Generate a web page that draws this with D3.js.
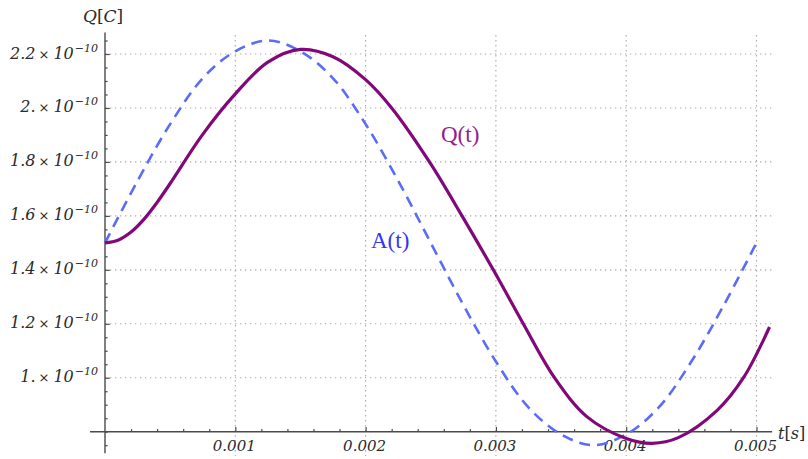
<!DOCTYPE html>
<html>
<head>
<meta charset="utf-8">
<script src="https://cdn.jsdelivr.net/npm/d3@7"></script>
<style>
  html, body { margin: 0; padding: 0; background: #fff; }
  svg { display: block; }
</style>
</head>
<body>
<svg id="chart" width="808" height="459"></svg>
<script>
// Driving signal A(t) and capacitor charge Q(t), in coulombs, against time in seconds
const timeA = [0, 0.00025, 0.0005, 0.00075, 0.001, 0.00125, 0.0015, 0.00175, 0.002, 0.00225,
  0.0025, 0.00275, 0.003, 0.00325, 0.0035, 0.00375, 0.004, 0.00425, 0.0045, 0.00475, 0.005];
const chargeA = [1.50e-10, 1.73e-10, 1.94e-10, 2.11e-10, 2.21e-10, 2.25e-10, 2.21e-10, 2.11e-10,
  1.94e-10, 1.73e-10, 1.50e-10, 1.27e-10, 1.06e-10, 0.89e-10, 0.79e-10, 0.75e-10, 0.79e-10,
  0.89e-10, 1.06e-10, 1.27e-10, 1.50e-10];

const timeQ = [0, 0.0001, 0.0002, 0.0003, 0.0004, 0.0005, 0.00075, 0.001, 0.00125, 0.0015,
  0.00175, 0.002, 0.0022, 0.00249, 0.00274, 0.00298, 0.00321, 0.00345, 0.0037, 0.004, 0.0042,
  0.0044, 0.0047, 0.0049, 0.0051];
const chargeQ = [1.500e-10, 1.510e-10, 1.540e-10, 1.588e-10, 1.650e-10, 1.720e-10, 1.902e-10,
  2.052e-10, 2.170e-10, 2.217e-10, 2.190e-10, 2.105e-10, 2.000e-10, 1.800e-10, 1.600e-10,
  1.400e-10, 1.200e-10, 1.000e-10, 0.855e-10, 0.775e-10, 0.757e-10, 0.778e-10, 0.880e-10,
  1.000e-10, 1.188e-10];

// Tick values and their labels
const xTickValues = [0.001, 0.002, 0.003, 0.004, 0.005];
const xTickLabels = ["0.001", "0.002", "0.003", "0.004", "0.005"];
const xMinorTicks = d3.range(1, 26).map(i => i * 0.0002);
const yTickValues = [1.0e-10, 1.2e-10, 1.4e-10, 1.6e-10, 1.8e-10, 2.0e-10, 2.2e-10];
const yTickMantissas = ["1.", "1.2", "1.4", "1.6", "1.8", "2.", "2.2"];
const yTickExponent = "\u221210";
const yMinorTicks = d3.range(15, 46).map(i => i * 0.05e-10);

// Extents of the axis lines and grid lines
const xAxisExtent = [-0.000115, 0.00512];
const yAxisExtent = [0.72e-10, 2.28e-10];
const gridTop = 2.27e-10, gridBottom = 0.71e-10;
const xAxisAt = 0.8e-10;

const svg = d3.select("#chart");
const x = d3.scaleLinear().domain([0, 0.005]).range([105, 756.5]);
const y = d3.scaleLinear().domain([0.8e-10, 2.2e-10]).range([431.7, 54]);

const serif = "'DejaVu Serif', serif";
const axisColor = "#4a4a4a";

// Dotted grid
const grid = svg.append("g")
  .attr("stroke", "#a8a8a8")
  .attr("stroke-width", 1.1)
  .attr("stroke-dasharray", "1.3,3.7");
grid.selectAll("line.h").data(yTickValues).join("line")
  .attr("class", "h")
  .attr("x1", x(0)).attr("x2", x(xAxisExtent[1]))
  .attr("y1", d => y(d)).attr("y2", d => y(d));
grid.selectAll("line.v").data(xTickValues).join("line")
  .attr("class", "v")
  .attr("x1", d => x(d)).attr("x2", d => x(d))
  .attr("y1", y(gridTop)).attr("y2", y(gridBottom));

// Axis lines
svg.append("line")
  .attr("x1", x(xAxisExtent[0])).attr("x2", x(xAxisExtent[1]))
  .attr("y1", y(xAxisAt)).attr("y2", y(xAxisAt))
  .attr("stroke", axisColor).attr("stroke-width", 1.4);
svg.append("line")
  .attr("x1", x(0)).attr("x2", x(0))
  .attr("y1", y(yAxisExtent[0])).attr("y2", y(yAxisExtent[1]))
  .attr("stroke", axisColor).attr("stroke-width", 1.4);

// Inward ticks drawn with D3 axes (labels are set separately)
function tickAxis(axis, transform) {
  const g = svg.append("g").attr("transform", transform).call(axis);
  g.select(".domain").remove();
  g.selectAll(".tick line").attr("stroke", axisColor).attr("stroke-width", 1.2);
  g.selectAll(".tick text").remove();
  return g;
}
tickAxis(d3.axisTop(x).tickValues(xMinorTicks.filter(v => !xTickValues.some(t => Math.abs(t - v) < 1e-9))).tickSize(2.6).tickFormat(""),
  `translate(0,${y(xAxisAt)})`);
tickAxis(d3.axisTop(x).tickValues(xTickValues).tickSize(4.8).tickFormat(""),
  `translate(0,${y(xAxisAt)})`);
tickAxis(d3.axisRight(y).tickValues(yMinorTicks.filter(v => !yTickValues.some(t => Math.abs(t - v) < 1e-14))).tickSize(2.6).tickFormat(""),
  `translate(${x(0)},0)`);
tickAxis(d3.axisRight(y).tickValues(yTickValues).tickSize(4.8).tickFormat(""),
  `translate(${x(0)},0)`);

// Tick labels
svg.append("g").selectAll("text").data(xTickValues).join("text")
  .attr("x", d => x(d) - 1)
  .attr("y", y(xAxisAt) + 19)
  .attr("text-anchor", "middle")
  .attr("font-family", serif).attr("font-style", "italic")
  .attr("font-size", 15).attr("fill", "#2a2a2a")
  .text((d, i) => xTickLabels[i]);

const yLabels = svg.append("g").selectAll("text").data(yTickValues).join("text")
  .attr("x", x(0) - 7)
  .attr("y", d => y(d) + 4.5)
  .attr("text-anchor", "end")
  .attr("font-family", serif).attr("font-style", "italic")
  .attr("font-size", 16).attr("fill", "#2a2a2a");
yLabels.append("tspan").text((d, i) => yTickMantissas[i]);
yLabels.append("tspan").attr("dx", 3).attr("font-size", 13).attr("font-style", "normal").text("\u00d7");
yLabels.append("tspan").attr("dx", 4).text("10");
yLabels.append("tspan").attr("dx", 1).attr("dy", -7).attr("font-size", 11).text(yTickExponent);

// Axis titles
const qTitle = svg.append("text").attr("x", 83).attr("y", 22)
  .attr("font-family", serif).attr("font-size", 17).attr("fill", "#2a2a2a");
qTitle.append("tspan").attr("font-style", "italic").text("Q");
qTitle.append("tspan").text("[");
qTitle.append("tspan").attr("font-style", "italic").text("C");
qTitle.append("tspan").text("]");

const tTitle = svg.append("text").attr("x", 778).attr("y", 439)
  .attr("font-family", serif).attr("font-size", 16).attr("fill", "#2a2a2a");
tTitle.append("tspan").attr("font-style", "italic").text("t");
tTitle.append("tspan").text("[");
tTitle.append("tspan").attr("font-style", "italic").text("s");
tTitle.append("tspan").text("]");

// Curves
const line = d3.line().curve(d3.curveCatmullRom.alpha(0.5)).x(d => x(d[0])).y(d => y(d[1]));

svg.append("path")
  .datum(d3.zip(timeA, chargeA))
  .attr("d", line)
  .attr("fill", "none")
  .attr("stroke", "#5a6cf8")
  .attr("stroke-width", 2.6)
  .attr("stroke-dasharray", "11,7");

svg.append("path")
  .datum(d3.zip(timeQ, chargeQ))
  .attr("d", line)
  .attr("fill", "none")
  .attr("stroke", "#82087a")
  .attr("stroke-width", 3.2)
  .attr("stroke-linejoin", "round");

// Curve labels
svg.append("text").attr("x", 441).attr("y", 142)
  .attr("font-family", "'Liberation Serif', 'Times New Roman', serif")
  .attr("font-size", 23).attr("fill", "#951d90")
  .text("Q(t)");
svg.append("text").attr("x", 371).attr("y", 248)
  .attr("font-family", "'Liberation Serif', 'Times New Roman', serif")
  .attr("font-size", 23).attr("fill", "#3535f0")
  .text("A(t)");
</script>
</body>
</html>
